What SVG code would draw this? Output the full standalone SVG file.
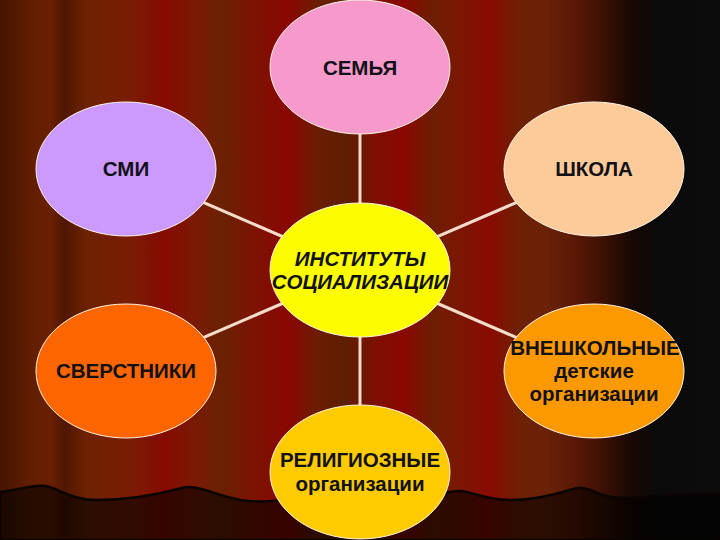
<svg xmlns="http://www.w3.org/2000/svg" width="720" height="540" viewBox="0 0 720 540">
  <defs>
    <linearGradient id="curtain" x1="0" y1="0" x2="720" y2="0" gradientUnits="userSpaceOnUse">
      <stop offset="0" stop-color="#561a02"/>
      <stop offset="0.03" stop-color="#5e1d02"/>
      <stop offset="0.07" stop-color="#6a2002"/>
      <stop offset="0.09" stop-color="#4f1602"/>
      <stop offset="0.12" stop-color="#6e2203"/>
      <stop offset="0.18" stop-color="#7a1c03"/>
      <stop offset="0.23" stop-color="#860b02"/>
      <stop offset="0.27" stop-color="#7a1a03"/>
      <stop offset="0.31" stop-color="#6a2102"/>
      <stop offset="0.35" stop-color="#7d1303"/>
      <stop offset="0.40" stop-color="#8a0602"/>
      <stop offset="0.44" stop-color="#6c1d02"/>
      <stop offset="0.48" stop-color="#5d1e02"/>
      <stop offset="0.52" stop-color="#7d1002"/>
      <stop offset="0.56" stop-color="#8a0702"/>
      <stop offset="0.60" stop-color="#6e1e02"/>
      <stop offset="0.64" stop-color="#7c1603"/>
      <stop offset="0.68" stop-color="#8a0a02"/>
      <stop offset="0.72" stop-color="#6e2002"/>
      <stop offset="0.76" stop-color="#6a2208"/>
      <stop offset="0.80" stop-color="#5a1805"/>
      <stop offset="0.84" stop-color="#3a1004"/>
      <stop offset="0.88" stop-color="#160804"/>
      <stop offset="0.91" stop-color="#0a0a0a"/>
      <stop offset="1" stop-color="#0c0c0c"/>
    </linearGradient>
    <linearGradient id="leftshade" x1="0" y1="0" x2="1" y2="0">
      <stop offset="0" stop-color="#000" stop-opacity="0.2"/>
      <stop offset="1" stop-color="#000" stop-opacity="0"/>
    </linearGradient>
  </defs>
  <style>
    .link { stroke: #f3dccb; stroke-width: 3; fill: none; }
    .node ellipse { stroke: #fff3e6; stroke-width: 1; }
    .lbl { font-family: "Liberation Sans", Arial, sans-serif; font-weight: bold; font-size: 20.5px; fill: #111118; text-anchor: middle; }
    .it { font-style: italic; }
  </style>

  <g id="background">
    <rect x="0" y="0" width="720" height="540" fill="url(#curtain)"/>
    <rect x="0" y="0" width="30" height="540" fill="url(#leftshade)"/>
    <path d="M0,492 C18,490 34,484 46,486 C60,489 72,500 96,500 C128,500 160,494 182,488 C196,484 212,494 240,500 C262,504 285,500 300,497 L420,497 C440,494 452,490 462,491 C475,493 486,500 510,500 C540,500 560,492 578,488 C590,486 598,498 622,498 C648,498 676,493 720,494 L720,540 L0,540 Z" fill="#000" fill-opacity="0.6" stroke="#0a0402" stroke-width="2.5"/>
  </g>

  <g id="connectors">
    <line class="link" x1="360" y1="270" x2="360" y2="67"/>
    <line class="link" x1="360" y1="270" x2="126" y2="169"/>
    <line class="link" x1="360" y1="270" x2="594" y2="169"/>
    <line class="link" x1="360" y1="270" x2="126" y2="371"/>
    <line class="link" x1="360" y1="270" x2="594" y2="371"/>
    <line class="link" x1="360" y1="270" x2="360" y2="472"/>
  </g>

  <g id="node-semya" class="node">
    <ellipse cx="360" cy="67" rx="90" ry="67" fill="#f699cb"/>
    <text class="lbl" x="360" y="75">СЕМЬЯ</text>
  </g>
  <g id="node-smi" class="node">
    <ellipse cx="126" cy="169" rx="90" ry="67" fill="#cc99fd"/>
    <text class="lbl" x="126" y="176">СМИ</text>
  </g>
  <g id="node-shkola" class="node">
    <ellipse cx="594" cy="169" rx="90" ry="67" fill="#fdcb99"/>
    <text class="lbl" x="594" y="176">ШКОЛА</text>
  </g>
  <g id="node-center" class="node">
    <ellipse cx="360" cy="270" rx="90" ry="67" fill="#fdfd00"/>
    <text class="lbl it" x="360" y="266">ИНСТИТУТЫ</text>
    <text class="lbl it" x="360" y="289">СОЦИАЛИЗАЦИИ</text>
  </g>
  <g id="node-sverstniki" class="node">
    <ellipse cx="126" cy="371" rx="90" ry="67" fill="#fd6500"/>
    <text class="lbl" x="126" y="378">СВЕРСТНИКИ</text>
  </g>
  <g id="node-vneshkolnye" class="node">
    <ellipse cx="594" cy="371" rx="90" ry="67" fill="#fd9900"/>
    <text class="lbl" x="595" y="355">ВНЕШКОЛЬНЫЕ</text>
    <text class="lbl" x="594" y="378">детские</text>
    <text class="lbl" x="594" y="401">организации</text>
  </g>
  <g id="node-religioznye" class="node">
    <ellipse cx="360" cy="472" rx="90" ry="67" fill="#fdcb00"/>
    <text class="lbl" x="360" y="467">РЕЛИГИОЗНЫЕ</text>
    <text class="lbl" x="360" y="491">организации</text>
  </g>
</svg>
